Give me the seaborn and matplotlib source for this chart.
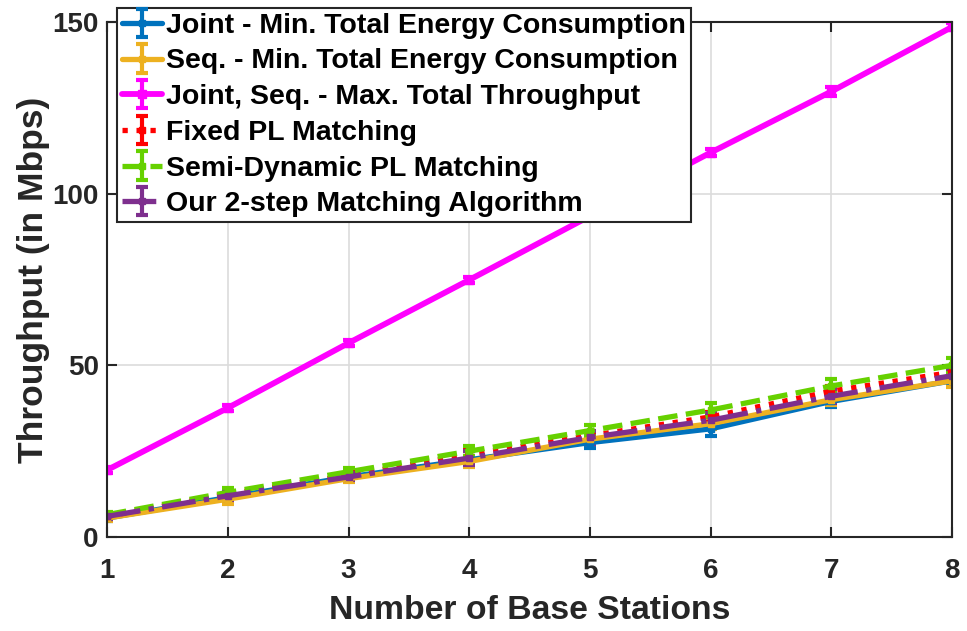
import numpy as np
import seaborn as sns
import matplotlib.pyplot as plt

# data
stations = [1, 2, 3, 4, 5, 6, 7, 8]
joint_min_energy = [5.5, 11.5, 17.5, 22.5, 27.5, 31.5, 39.5, 45.5]
seq_min_energy = [5.5, 11.0, 17.0, 22.0, 28.5, 33.0, 40.0, 45.5]
max_throughput = [19.5, 37.6, 56.5, 74.9, 93.5, 112.0, 129.8, 148.6]
fixed_pl = [6.0, 12.5, 18.0, 24.0, 29.5, 35.0, 42.5, 48.0]
semi_dynamic_pl = [6.5, 13.0, 19.0, 25.0, 31.0, 37.0, 44.0, 50.0]
two_step = [6.0, 12.0, 17.5, 23.0, 29.0, 34.0, 41.0, 47.0]

err_joint = [0.8, 1.0, 1.0, 1.2, 1.5, 2.0, 1.5, 1.5]
err_seq = [0.8, 1.5, 1.0, 1.5, 1.5, 1.5, 1.5, 1.8]
err_max = [0.8, 0.8, 0.8, 0.8, 0.8, 1.0, 1.2, 1.0]
err_fixed = [0.8, 1.0, 1.0, 1.2, 1.2, 1.5, 1.5, 1.5]
err_semi = [0.8, 1.2, 1.0, 1.5, 1.5, 2.0, 2.0, 2.0]
err_two = [0.8, 1.2, 1.0, 2.0, 1.8, 2.0, 2.0, 1.8]

labels = ['Joint - Min. Total Energy Consumption',
          'Seq. - Min. Total Energy Consumption',
          'Joint, Seq. - Max. Total Throughput',
          'Fixed PL Matching',
          'Semi-Dynamic PL Matching',
          'Our 2-step Matching Algorithm']

sns.set_style('ticks')
plt.rcParams['font.family'] = ['Liberation Sans', 'DejaVu Sans']
plt.rcParams['font.weight'] = 'bold'
plt.rcParams['text.color'] = '#000000'

fig = plt.figure(figsize=(9.67, 6.31), dpi=100)
ax = fig.add_axes([0.1107, 0.149, 0.874, 0.816])

series = [
    (joint_min_energy, err_joint, '#0072BD', '-'),
    (seq_min_energy, err_seq, '#EDB120', '-'),
    (max_throughput, err_max, '#FF00FF', '-'),
    (fixed_pl, err_fixed, '#FF0000', ':'),
    (semi_dynamic_pl, err_semi, '#66D100', '--'),
    (two_step, err_two, '#7E2F8E', '-.'),
]
for (y, e, c, ls), lab in zip(series, labels):
    lw = 4.2 if c == '#FF00FF' else 3.8
    ax.errorbar(stations, y, yerr=e, color=c, ls=ls, lw=lw,
                marker='s', ms=6 if c == '#FF00FF' else 4, mec=c,
                elinewidth=3, capsize=4, capthick=3, label=lab)

ax.set_xlim(1, 8)
ax.set_ylim(0, 150)
ax.set_xticks(stations)
ax.set_yticks([0, 50, 100, 150])
ax.grid(True, color='#dcdcdc', lw=1.2)
ax.tick_params(direction='in', length=7, width=1.5, labelsize=20, top=True, right=True,
               colors='#262626')
ax.tick_params(axis='x', pad=15)
ax.tick_params(axis='y', pad=6)
for lab in ax.get_xticklabels() + ax.get_yticklabels():
    lab.set_fontweight('bold')
for s in ax.spines.values():
    s.set_linewidth(1.5)
    s.set_color('#262626')
ax.set_xlabel('Number of Base Stations', fontsize=24.3, fontweight='bold',
              color='#262626', labelpad=8)
ax.set_ylabel('Throughput (in Mbps)', fontsize=25.5, fontweight='bold',
              color='#262626', labelpad=2)

leg = ax.legend(loc='upper left', bbox_to_anchor=(0.012, 1.028), fontsize=20.5,
                frameon=True, fancybox=False, edgecolor='#262626',
                borderpad=0.18, labelspacing=0.34, handlelength=1.4,
                handletextpad=0.15, borderaxespad=0.0)
leg.get_frame().set_linewidth(1.5)
leg.get_frame().set_alpha(1)
for t in leg.get_texts():
    t.set_color('#000000')

plt.savefig('out.png', dpi=100)
